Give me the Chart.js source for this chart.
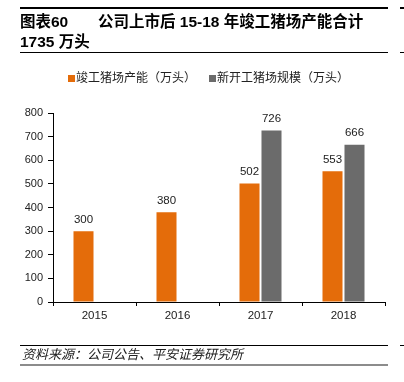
<!DOCTYPE html>
<html>
<head>
<meta charset="utf-8">
<script src="https://cdn.jsdelivr.net/npm/chart.js@4"></script>
<style>
  body { margin: 0; background: #fff; }
  #wrap { position: relative; width: 404px; height: 382px; overflow: hidden;
          font-family: "Liberation Sans", "Noto Sans CJK SC", sans-serif; color: #000; }
  #myChart { position: absolute; left: 0; top: 0; }
  .line { position: absolute; background: #000; }
  .t { position: absolute; font-weight: bold; font-size: 15.5px; white-space: pre; line-height: 1; }
  .leg { position: absolute; top: 72px; font-size: 12px; color: #222; white-space: pre; line-height: 12px; }
  .sw { display: inline-block; width: 7px; height: 7px; margin-right: 1px; vertical-align: 0px; }
  #src { position: absolute; left: 22px; top: 348px; font-size: 13px; font-style: italic; color: #222; line-height: 1; }
</style>
</head>
<body>
<div id="wrap">
  <canvas id="myChart" width="404" height="382"></canvas>

  <div class="line" style="left:20px;top:7px;width:368px;height:2px;"></div>
  <div class="line" style="left:400px;top:7px;width:4px;height:2px;"></div>
  <div class="t" style="left:20px;top:14px;">图表60</div>
  <div class="t" style="left:98px;top:14px;">公司上市后 15-18 年竣工猪场产能合计</div>
  <div class="t" style="left:20px;top:34px;">1735 万头</div>
  <div class="line" style="left:20px;top:52px;width:368px;height:1px;"></div>
  <div class="line" style="left:400px;top:52px;width:4px;height:1px;"></div>

  <div class="leg" style="left:68px;"><span class="sw" style="background:#E46C0A"></span>竣工猪场产能（万头）</div>
  <div class="leg" style="left:209px;"><span class="sw" style="background:#6B6B6B"></span>新开工猪场规模（万头）</div>

  <div class="line" style="left:20px;top:345px;width:368px;height:1px;"></div>
  <div class="line" style="left:400px;top:345px;width:4px;height:1px;"></div>
  <div id="src">资料来源：公司公告、平安证券研究所</div>
  <div class="line" style="left:20px;top:364px;width:368px;height:2px;background:#8c8c8c;"></div>
</div>

<script>
const years = ["2015", "2016", "2017", "2018"]
const completed = [300, 380, 502, 553]
const newStarts = [null, null, 726, 666]
const yTicks = [0, 100, 200, 300, 400, 500, 600, 700, 800]

// value labels over bars
const barLabels = {
  id: "barLabels",
  afterDatasetsDraw(chart) {
    const ctx = chart.ctx
    ctx.save()
    ctx.font = "11.5px 'Liberation Sans', sans-serif"
    ctx.fillStyle = "#222"
    ctx.textAlign = "center"
    ctx.textBaseline = "bottom"
    chart.data.datasets.forEach((ds, i) => {
      chart.getDatasetMeta(i).data.forEach((bar, j) => {
        if (ds.data[j] == null) return
        ctx.fillText(ds.data[j], bar.x, bar.y - 6)
      })
    })
    ctx.restore()
  }
}

const data = {
  labels: years,
  datasets: [
    {
      label: "竣工猪场产能（万头）",
      data: completed,
      backgroundColor: "#E46C0A",
      categoryPercentage: 0.53,
      barPercentage: 0.91,
    },
    {
      label: "新开工猪场规模（万头）",
      data: newStarts,
      backgroundColor: "#6B6B6B",
      categoryPercentage: 0.53,
      barPercentage: 0.91,
    },
  ],
}

const config = {
  type: "bar",
  data,
  options: {
    responsive: false,
    animation: false,
    layout: { padding: { left: 0, right: 19, top: 113, bottom: 0 } },
    plugins: {
      legend: { display: false },
      tooltip: { enabled: false },
    },
    scales: {
      x: {
        grid: { display: true, drawOnChartArea: false, color: "#000", tickLength: 4, offset: true },
        border: { color: "#000", width: 1 },
        ticks: { color: "#222", font: { size: 11.5, family: "'Liberation Sans', sans-serif" }, padding: 3 },
        afterFit: (s) => { s.height = 80 },
      },
      y: {
        min: 0,
        max: 800,
        afterBuildTicks: (s) => { s.ticks = yTicks.map(v => ({ value: v })) },
        grid: { display: true, drawOnChartArea: false, color: "#000", tickLength: 5 },
        border: { color: "#000", width: 1 },
        ticks: { color: "#222", font: { size: 11, family: "'Liberation Sans', sans-serif" }, padding: 5 },
        afterFit: (s) => { s.width = 53 },
      },
    },
  },
  plugins: [barLabels],
}

const myChart = new Chart(document.getElementById("myChart"), config)
</script>
</body>
</html>
